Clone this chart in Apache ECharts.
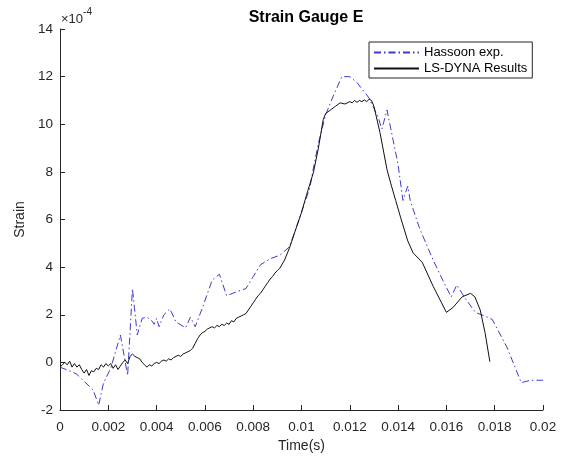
<!DOCTYPE html>
<html>
<head>
<meta charset="utf-8">
<script src="https://cdn.jsdelivr.net/npm/echarts@6/dist/echarts.min.js"></script>
<style>html,body{margin:0;padding:0;background:#fff}#c{width:569px;height:458px}</style>
</head>
<body>
<div id="c"></div>
<script>
// Hassoon experimental data (time in s, strain x1e-4)
const expTime = [0, 0.0005, 0.0007, 0.0010, 0.00137, 0.0016, 0.0018, 0.0021, 0.0025, 0.0026, 0.0028, 0.0030,
  0.0032, 0.0034, 0.0036, 0.0038, 0.0039, 0.0040, 0.0041, 0.0043, 0.00455, 0.0048, 0.0052, 0.0054, 0.0056,
  0.0059, 0.0063, 0.0066, 0.0069, 0.0074, 0.0077, 0.0080, 0.0083, 0.0087, 0.0091, 0.0095, 0.0099, 0.01035,
  0.0105, 0.0107, 0.0110, 0.0113, 0.01167, 0.0120, 0.0123, 0.0128, 0.01317, 0.01333, 0.01354, 0.0138, 0.0140,
  0.0142, 0.0144, 0.0145, 0.0149, 0.01545, 0.0159, 0.0162, 0.01643, 0.01677, 0.0172, 0.0177, 0.0179, 0.0185,
  0.0191, 0.0195, 0.0200];
const expStrain = [-0.2, -0.4, -0.5, -0.8, -1.15, -1.8, -0.87, -0.25, 1.15, 0.6, -0.55, 3.1,
  1.15, 1.85, 1.9, 1.75, 1.6, 1.85, 1.5, 2.0, 2.25, 1.7, 1.45, 1.9, 1.5,
  2.3, 3.45, 3.7, 2.8, 3.0, 3.1, 3.6, 4.1, 4.35, 4.5, 4.85, 6.0, 7.35,
  8.2, 9.2, 10.4, 11.15, 12.0, 12.0, 11.75, 11.1, 10.3, 9.8, 10.6, 9.3, 8.3,
  6.8, 7.4, 6.8, 5.6, 4.3, 3.35, 2.75, 3.25, 2.7, 2.1, 1.9, 1.8, 0.65,
  -0.85, -0.75, -0.75];

// LS-DYNA results
const simTime = [0, 0.0002, 0.0003, 0.0004, 0.0005, 0.0006, 0.0007, 0.0008, 0.0009, 0.0010, 0.0011, 0.0012,
  0.0013, 0.0014, 0.0015, 0.0016, 0.0017, 0.0018, 0.0019, 0.0020, 0.0021, 0.0022, 0.0023, 0.0024, 0.0025,
  0.0026, 0.0027, 0.0028, 0.0029, 0.0030, 0.0031, 0.0032, 0.0033, 0.0034, 0.0035, 0.0036, 0.0037, 0.0038,
  0.0039, 0.0040, 0.0041, 0.0042, 0.0043, 0.0044, 0.0045, 0.0046, 0.0047, 0.0048, 0.0049, 0.0050, 0.0051,
  0.0052, 0.0053, 0.0054, 0.0055, 0.0056, 0.0057, 0.0058, 0.0059, 0.0060, 0.0061, 0.0062, 0.0063, 0.0064,
  0.0065, 0.0066, 0.0067, 0.0068, 0.0069, 0.0070, 0.0071, 0.0072, 0.0073, 0.0074, 0.0075, 0.0076, 0.0077,
  0.0078, 0.0079, 0.0080, 0.0081, 0.0082, 0.0083, 0.0084, 0.0085, 0.0086, 0.0087, 0.0088, 0.0089, 0.0090,
  0.0091, 0.0093, 0.0095, 0.0098, 0.0100, 0.0102, 0.0105, 0.0107, 0.0109, 0.0110, 0.0112, 0.0114, 0.0116,
  0.0118, 0.0120, 0.0121, 0.0122, 0.0123, 0.0124, 0.0125, 0.0126, 0.0127, 0.0128, 0.0129, 0.0130, 0.01325,
  0.01354, 0.0137, 0.0139, 0.0141, 0.0144, 0.01462, 0.0150, 0.01545, 0.0158, 0.0160, 0.01627, 0.01665, 0.0170,
  0.01718, 0.0174, 0.0176, 0.0178];
const simStrain = [-0.2, 0.0, -0.1, 0.05, -0.2, -0.05, -0.2, -0.1, -0.3, -0.45, -0.3, -0.55,
  -0.35, -0.4, -0.25, -0.3, -0.1, -0.2, -0.05, -0.15, -0.05, -0.25, -0.1, -0.3, -0.15,
  0.0, 0.1, -0.05, 0.25, 0.35, 0.25, 0.2, 0.15, 0.0, -0.1, -0.2, -0.1, -0.15,
  -0.05, 0.0, -0.05, 0.05, 0.1, 0.05, 0.15, 0.1, 0.2, 0.25, 0.3, 0.25, 0.35,
  0.4, 0.45, 0.5, 0.6, 0.8, 1.0, 1.15, 1.25, 1.3, 1.4, 1.45, 1.5, 1.45,
  1.55, 1.5, 1.6, 1.55, 1.65, 1.6, 1.75, 1.7, 1.85, 1.9, 1.95, 2.0, 2.05,
  2.2, 2.35, 2.5, 2.65, 2.8, 2.9, 3.05, 3.2, 3.35, 3.5, 3.6, 3.75, 3.85,
  3.95, 4.3, 4.8, 5.7, 6.3, 7.0, 8.0, 9.0, 10.2, 10.45, 10.6, 10.75, 10.9,
  10.85, 10.95, 10.9, 11.0, 10.92, 11.0, 10.95, 11.02, 10.95, 11.05, 11.0, 10.75, 9.65,
  8.1, 7.5, 6.8, 6.1, 5.1, 4.6, 4.2, 3.2, 2.5, 2.1, 2.3, 2.75, 2.9,
  2.75, 2.2, 1.25, 0.03];

const seriesNames = ['Hassoon exp.', 'LS-DYNA Results'];
const titleText = 'Strain Gauge E';
const xName = 'Time(s)';
const yName = 'Strain';

const zip = (a, b) => a.map((v, i) => [v, b[i]]);
const font = 'Liberation Sans, Arial, Helvetica, sans-serif';
const txt = '#262626';

const chart = echarts.init(document.getElementById('c'), null, {renderer: 'canvas'});
chart.setOption({
  animation: false,
  backgroundColor: '#fff',
  title: {
    text: titleText, left: 301, top: 5, textAlign: 'center',
    textStyle: {fontFamily: font, fontSize: 16, fontWeight: 'bold', color: '#000'}
  },
  grid: {left: 60, right: 26, top: 29, bottom: 48, containLabel: false, outerBoundsMode: 'none'},
  legend: {
    orient: 'vertical', left: 369, top: 42,
    padding: [4, 5, 3, 4], itemGap: 3,
    itemWidth: 45, itemHeight: 14,
    borderColor: '#262626', borderWidth: 1, backgroundColor: '#fff',
    itemStyle: {opacity: 0},
    textStyle: {fontFamily: font, fontSize: 13, color: '#000'},
    data: seriesNames
  },
  xAxis: {
    type: 'value', min: 0, max: 0.02, interval: 0.002,
    name: xName, nameLocation: 'middle', nameGap: 29,
    nameTextStyle: {fontFamily: font, fontSize: 14, color: txt},
    axisLine: {show: true, onZero: false, lineStyle: {color: txt, width: 1}},
    axisTick: {show: true, inside: true, length: 5, lineStyle: {color: txt}},
    axisLabel: {fontFamily: font, fontSize: 13.5, color: txt, margin: 10,
      formatter: v => String(parseFloat(v.toFixed(4)))},
    splitLine: {show: false}
  },
  yAxis: {
    type: 'value', min: -2, max: 14, interval: 2,
    name: yName, nameLocation: 'middle', nameGap: 29,
    nameTextStyle: {fontFamily: font, fontSize: 14, color: txt},
    axisLine: {show: true, onZero: false, lineStyle: {color: txt, width: 1}},
    axisTick: {show: true, inside: true, length: 5, lineStyle: {color: txt}},
    axisLabel: {fontFamily: font, fontSize: 13.5, color: txt, margin: 7},
    splitLine: {show: false}
  },
  graphic: [{
    type: 'text', left: 61, top: 7,
    style: {
      text: '{a|×10}{b|-4}',
      rich: {
        a: {fontFamily: font, fontSize: 13, fill: txt, padding: [6, 0, 0, 0]},
        b: {fontFamily: font, fontSize: 10, fill: txt, verticalAlign: 'top'}
      }
    }
  }],
  series: [{
    name: seriesNames[0], type: 'line', data: zip(expTime, expStrain),
    showSymbol: false, symbol: 'none',
    lineStyle: {color: '#3b3bd0', width: 1, type: [7, 3, 1.5, 3]},
    itemStyle: {color: '#3b3bd0'}
  }, {
    name: seriesNames[1], type: 'line', data: zip(simTime, simStrain),
    showSymbol: false, symbol: 'none',
    lineStyle: {color: '#111', width: 1},
    itemStyle: {color: '#111'}
  }]
});
</script>
</body>
</html>
